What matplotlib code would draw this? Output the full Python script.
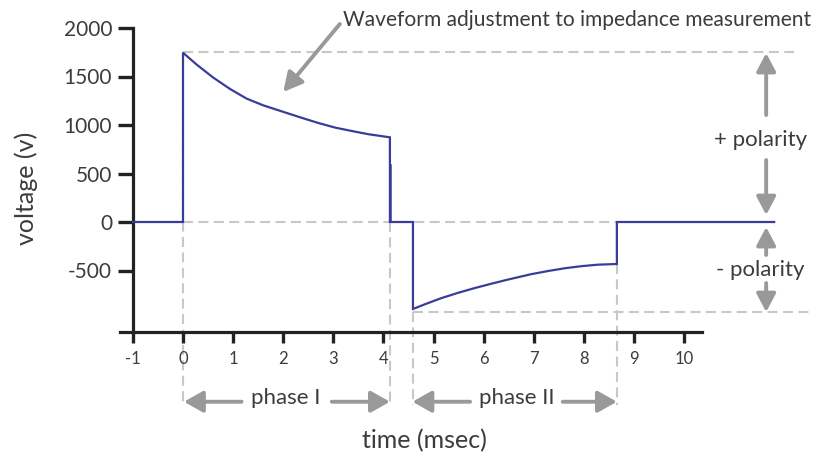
import matplotlib
matplotlib.use("Agg")
import matplotlib.pyplot as plt

plt.rcParams["font.family"] = ["Lato", "DejaVu Sans"]
plt.rcParams["axes.unicode_minus"] = False

# biphasic waveform, time in msec, voltage in V
phase1_t = [0.0, 0.27, 0.60, 0.94, 1.27, 1.60, 2.04, 2.37, 2.70, 3.03, 3.37, 3.70, 4.13]
phase1_v = [1745, 1624, 1490, 1371, 1272, 1203, 1129, 1074, 1021, 974, 938, 905, 873]
phase2_t = [4.59, 4.83, 5.15, 5.49, 5.83, 6.15, 6.49, 6.95, 7.29, 7.63, 7.96, 8.28, 8.66]
phase2_v = [-897, -848, -786, -730, -680, -637, -593, -538, -505, -476, -455, -440, -433]
t_start, t_end = -1.0, 11.8
stub_t = [4.155, 4.155]
stub_v = [590, 0]

peak_v = 1756
trough_v = -925
guide_bottom = -1887

x_ticks = list(range(-1, 11))
x_labels = [str(v) for v in x_ticks]
y_ticks = [-500, 0, 500, 1000, 1500, 2000]

blue = "#3a3d98"
dash_grey = "#c8c8c8"
arrow_grey = "#98999b"
text_col = "#3c3c3c"

# whole waveform as one path
wave_t = [t_start, 0.0] + phase1_t + [phase1_t[-1], phase2_t[0]] + phase2_t + [phase2_t[-1], t_end]
wave_v = [0, 0] + phase1_v + [0, 0] + phase2_v + [0, 0]

fig = plt.figure(figsize=(8.32, 4.58), dpi=100)
ax = fig.add_axes([0, 0, 1, 1])
ax.patch.set_alpha(0)
ax.set_xlim(-183 / 50.1, (832 - 183) / 50.1)
ax.set_ylim(-(458 - 222) / 0.097, 222 / 0.097)

# guide lines
dash = (0, (4.8, 2.6))
kw = dict(color=dash_grey, lw=1.5, linestyle=dash, zorder=1)
ax.plot([0, 12.28], [peak_v, peak_v], **kw)
ax.plot([0, phase2_t[-1]], [0, 0], **kw)
ax.plot([phase2_t[0], 12.56], [trough_v, trough_v], **kw)
ax.plot([0, 0], [peak_v, guide_bottom], **kw)
ax.plot([phase1_t[-1], phase1_t[-1]], [0, guide_bottom], **kw)
ax.plot([phase2_t[0], phase2_t[0]], [trough_v, guide_bottom], **kw)
ax.plot([phase2_t[-1], phase2_t[-1]], [phase2_v[-1], guide_bottom], **kw)

ax.plot(wave_t, wave_v, color=blue, lw=1.6, zorder=3, solid_joinstyle="miter")
ax.plot(stub_t, stub_v, color=blue, lw=1.1, zorder=3)

# axes
for s in ["top", "right"]:
    ax.spines[s].set_visible(False)
ax.spines["left"].set_position(("data", -1))
ax.spines["left"].set_bounds(-1139, 2000)
ax.spines["bottom"].set_position(("data", -1139))
ax.spines["bottom"].set_bounds(-1.26, 10.36)
for s in ["left", "bottom"]:
    ax.spines[s].set_linewidth(2.3)
    ax.spines[s].set_color("#222222")

ax.set_yticks(y_ticks)
ax.set_xticks(x_ticks)
ax.set_xticklabels(x_labels)
ax.tick_params(axis="y", direction="out", length=11, width=2.4, pad=4,
               labelsize=15, color="#222222", labelcolor=text_col)
ax.tick_params(axis="x", direction="out", length=8, width=2.4, pad=5,
               labelsize=12, color="#222222", labelcolor=text_col)

fig.text(26 / 832, 1 - 188 / 458, "voltage (v)", rotation=90, ha="center",
         va="center", fontsize=18, color=text_col)
fig.text(424 / 832, 1 - 441 / 458, "time (msec)", ha="center", va="center",
         fontsize=18, color=text_col)


def arrow(x0, y0, x1, y1, hl=11.5, hw=6.5):
    ax.annotate("", xy=(x1, y1), xytext=(x0, y0),
                arrowprops=dict(arrowstyle=f"-|>,head_length={hl},head_width={hw}",
                                mutation_scale=1, color=arrow_grey, lw=2.8,
                                shrinkA=0, shrinkB=0))


# annotation
ax.text(3.19, 2082, "Waveform adjustment to impedance measurement", ha="left",
        va="center", fontsize=15.1, color=text_col)
arrow(3.13, 2041, 2.0, 1340, 11.5, 6.0)

# phase labels
arrow_y = -1853
arrow(1.17, arrow_y, 0.02, arrow_y)
ax.text(2.05, -1814, "phase I", ha="center", va="center", fontsize=16, color=text_col)
arrow(2.97, arrow_y, 4.13, arrow_y)
arrow(5.73, arrow_y, 4.58, arrow_y)
ax.text(6.66, -1814, "phase II", ha="center", va="center", fontsize=16, color=text_col)
arrow(7.58, arrow_y, 8.66, arrow_y)

# polarity
px = 11.64
arrow(px, 1103, px, 1742, 11, 5.8)
arrow(px, 639, px, 72, 11, 5.8)
ax.text(11.52, 845, "+ polarity", ha="center", va="center", fontsize=16, color=text_col)
arrow(px, -340, px, -52, 11, 5.8)
arrow(px, -629, px, -928, 11, 5.8)
ax.text(11.52, -495, "- polarity", ha="center", va="center", fontsize=16, color=text_col)

fig.savefig("out.png", dpi=100)
